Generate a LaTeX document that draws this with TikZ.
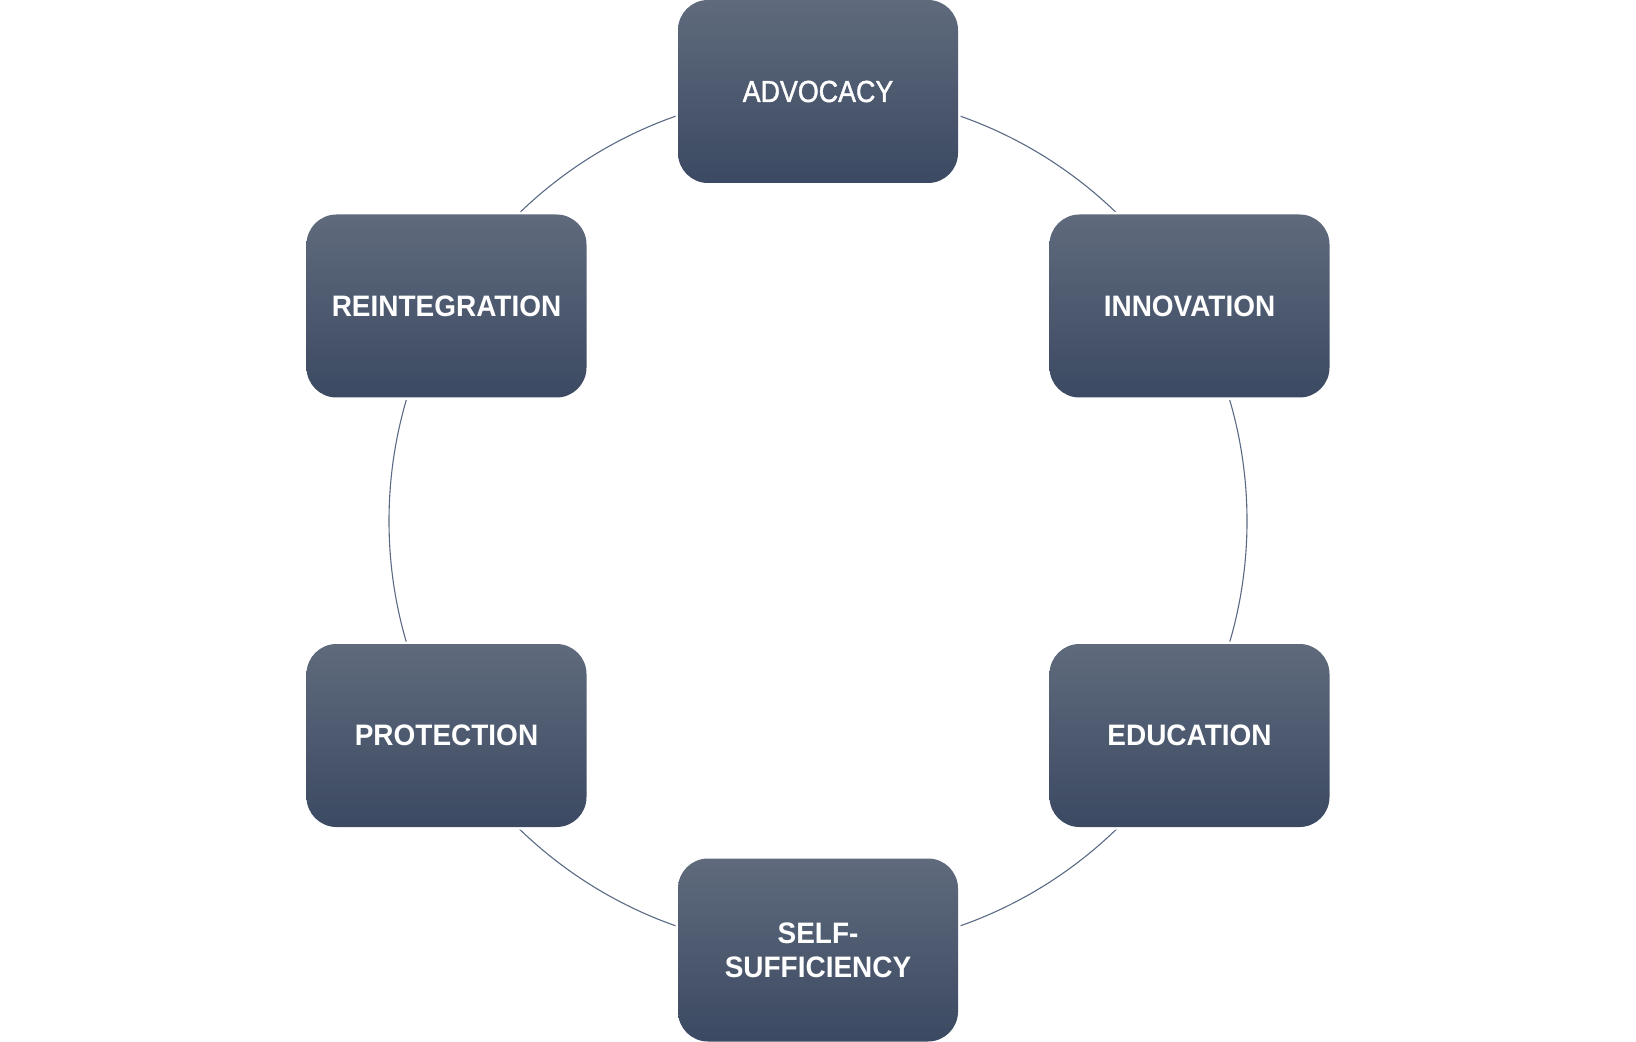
\documentclass[tikz,border=0pt]{standalone}
\usepackage{fontspec}
\newfontfamily\lblbold[FakeStretch=0.945]{Liberation Sans}
\newfontfamily\lblreg[FakeStretch=0.88,FakeBold=1.3]{Liberation Sans}
\definecolor{ringline}{HTML}{5A6A84}
\definecolor{boxtop}{HTML}{5F6A7C}
\definecolor{boxbot}{HTML}{3B4962}
\begin{document}
\begin{tikzpicture}[x=0.5pt,y=-0.5pt,
  stagebox/.style={rounded corners=15pt, minimum width=140pt, minimum height=91.5pt,
    inner sep=0pt, top color=boxtop, bottom color=boxbot, text=white, align=center,
    preaction={draw=white, line width=2.5pt},
    font=\lblbold\bfseries\fontsize{14.8pt}{17pt}\selectfont},
  ring/.style={draw=ringline, line width=0.55pt}]
\useasboundingbox (0,0) rectangle (1636,1042);
\coordinate (ctr) at (818,521);
\draw[ring] (ctr) circle[radius=429];
\node[stagebox, font=\lblreg\fontsize{15.25pt}{17pt}\selectfont] (adv) at (818,91.5) {ADVOCACY};
\node[stagebox] (inn) at (1189.5,306) {INNOVATION};
\node[stagebox] (edu) at (1189.5,735.5) {EDUCATION};
\node[stagebox] (self) at (818,950) {SELF-\\SUFFICIENCY};
\node[stagebox] (pro) at (446.5,735.5) {PROTECTION};
\node[stagebox] (rei) at (446.5,306) {REINTEGRATION};
\end{tikzpicture}
\end{document}
